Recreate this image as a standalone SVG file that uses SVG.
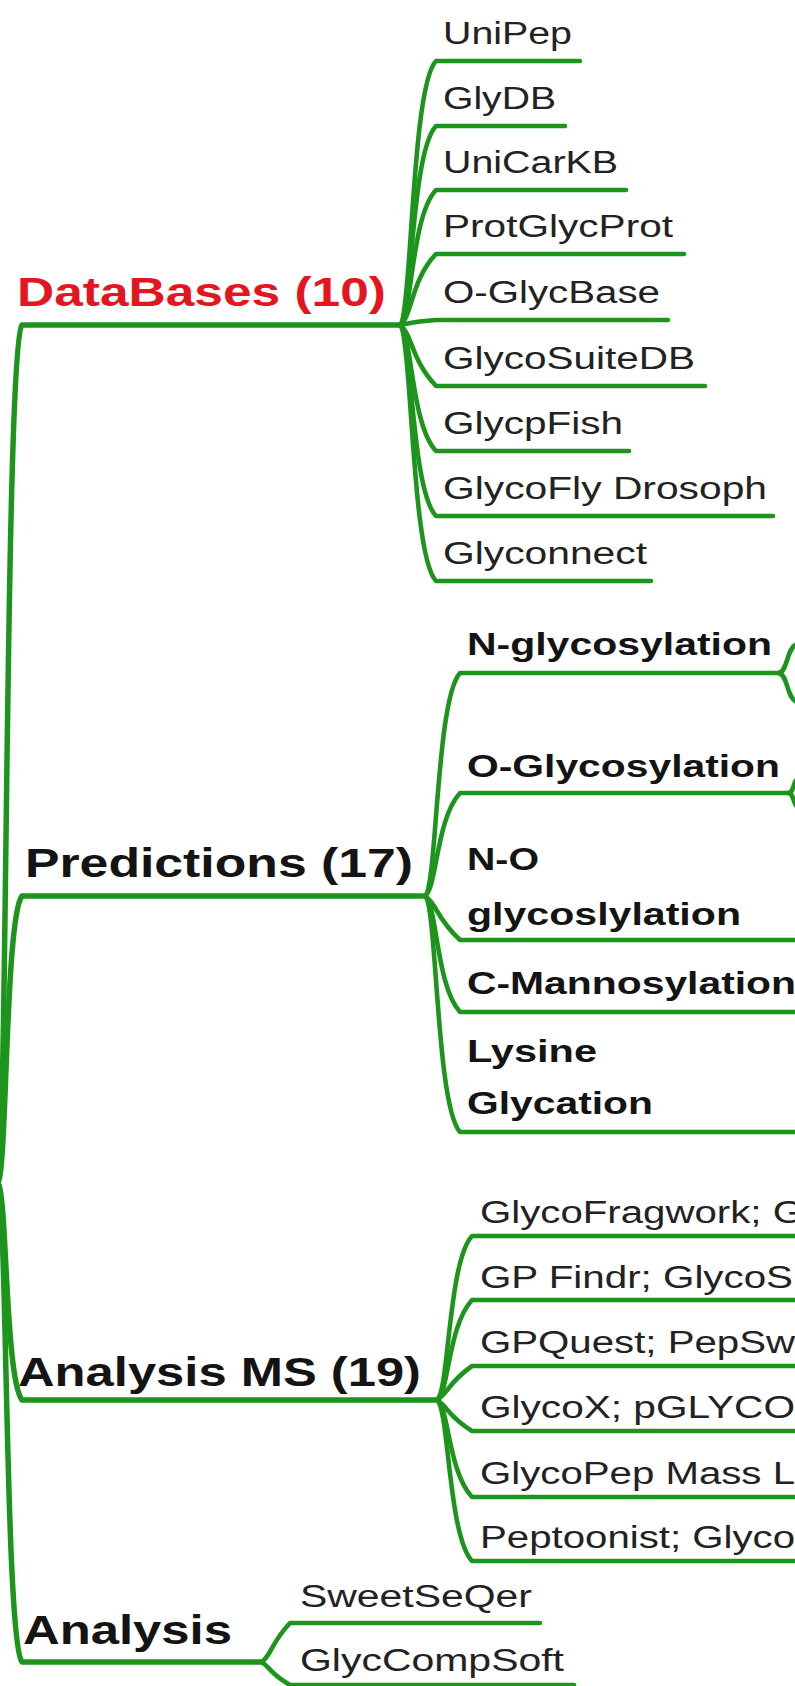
<svg xmlns="http://www.w3.org/2000/svg" width="795" height="1686" viewBox="0 0 795 1686">
<style>
.c{fill:none;stroke:#1d951d;stroke-linecap:round;stroke-linejoin:round}
.m{stroke-width:5.5}
.s{stroke-width:4.6}
.lab{font-family:"Liberation Sans",Arial,sans-serif;font-weight:bold;font-size:41px;fill:#141414}
.red{fill:#e4151f}
.it{font-family:"Liberation Sans",Arial,sans-serif;font-size:31px;fill:#222222}
.bi{font-family:"Liberation Sans",Arial,sans-serif;font-weight:bold;font-size:31px;fill:#141414}
</style>
<rect width="795" height="1686" fill="#ffffff"/>
<g id="connectors">
  <path class="c m" d="M -2 1183 C 7 1173, 5 347, 22 325 L 400 325"/>
  <path class="c m" d="M -2 1183 C 7 1173, 5 918, 22 896 L 425 896"/>
  <path class="c m" d="M -2 1183 C 7 1193, 5 1378, 22 1400 L 437 1400"/>
  <path class="c m" d="M -2 1183 C 7 1193, 5 1640, 22 1662 L 262 1662"/>
  <path class="c s" d="M 400 325 C 412 317, 411 87, 436 61 L 580 61"/>
  <path class="c s" d="M 400 325 C 412 317, 411 152, 436 126 L 565 126"/>
  <path class="c s" d="M 400 325 C 412 317, 411 216, 436 190 L 626 190"/>
  <path class="c s" d="M 400 325 C 412 317, 411 280, 436 254 L 684 254"/>
  <path class="c s" d="M 400 325 C 412 323, 411 322, 436 320 L 668 320"/>
  <path class="c s" d="M 400 325 C 412 333, 411 360, 436 386 L 705 386"/>
  <path class="c s" d="M 400 325 C 412 333, 411 425, 436 451 L 629 451"/>
  <path class="c s" d="M 400 325 C 412 333, 411 490, 436 516 L 773 516"/>
  <path class="c s" d="M 400 325 C 412 333, 411 555, 436 581 L 651 581"/>
  <path class="c s" d="M 425 896 C 437 888, 436 699, 460 673 L 780 673"/>
  <path class="c s" d="M 425 896 C 437 888, 436 819, 460 793 L 790 793"/>
  <path class="c s" d="M 425 896 C 437 904, 436 918, 460 940 L 800 940"/>
  <path class="c s" d="M 425 896 C 437 904, 436 986, 460 1012 L 800 1012"/>
  <path class="c s" d="M 425 896 C 437 904, 436 1106, 460 1132 L 800 1132"/>
  <path class="c s" d="M 778 673 C 788 673, 786 648, 797 644"/>
  <path class="c s" d="M 778 673 C 788 673, 786 698, 797 702"/>
  <path class="c s" d="M 788 793 C 794 793, 793 782, 797 779"/>
  <path class="c s" d="M 788 793 C 794 793, 793 804, 797 807"/>
  <path class="c s" d="M 437 1400 C 449 1392, 448 1262, 472 1236 L 800 1236"/>
  <path class="c s" d="M 437 1400 C 449 1392, 448 1326, 472 1300 L 800 1300"/>
  <path class="c s" d="M 437 1400 C 449 1392, 448 1383, 472 1366 L 800 1366"/>
  <path class="c s" d="M 437 1400 C 449 1408, 448 1416, 472 1431 L 800 1431"/>
  <path class="c s" d="M 437 1400 C 449 1408, 448 1471, 472 1497 L 800 1497"/>
  <path class="c s" d="M 437 1400 C 449 1408, 448 1535, 472 1561 L 800 1561"/>
  <path class="c s" d="M 262 1662 C 272 1654, 271 1643, 290 1623 L 540 1623"/>
  <path class="c s" d="M 262 1662 C 272 1670, 271 1674, 290 1685 L 574 1685"/>
</g>
<g id="databases"><text class="lab red" x="17" y="306" textLength="369" lengthAdjust="spacingAndGlyphs">DataBases (10)</text></g>
<g id="unipep"><text class="it" x="443" y="44" textLength="129" lengthAdjust="spacingAndGlyphs">UniPep</text></g>
<g id="glydb"><text class="it" x="443" y="109" textLength="113" lengthAdjust="spacingAndGlyphs">GlyDB</text></g>
<g id="unicarkb"><text class="it" x="443" y="173" textLength="175" lengthAdjust="spacingAndGlyphs">UniCarKB</text></g>
<g id="protglycprot"><text class="it" x="443" y="237" textLength="230" lengthAdjust="spacingAndGlyphs">ProtGlycProt</text></g>
<g id="oglycbase"><text class="it" x="443" y="303" textLength="217" lengthAdjust="spacingAndGlyphs">O-GlycBase</text></g>
<g id="glycosuitedb"><text class="it" x="443" y="369" textLength="252" lengthAdjust="spacingAndGlyphs">GlycoSuiteDB</text></g>
<g id="glycpfish"><text class="it" x="443" y="434" textLength="180" lengthAdjust="spacingAndGlyphs">GlycpFish</text></g>
<g id="glycofly"><text class="it" x="443" y="499" textLength="324" lengthAdjust="spacingAndGlyphs">GlycoFly Drosoph</text></g>
<g id="glyconnect"><text class="it" x="443" y="564" textLength="204" lengthAdjust="spacingAndGlyphs">Glyconnect</text></g>
<g id="predictions"><text class="lab" x="25" y="877" textLength="388" lengthAdjust="spacingAndGlyphs">Predictions (17)</text></g>
<g id="nglyco"><text class="bi" x="467" y="655" textLength="305" lengthAdjust="spacingAndGlyphs">N-glycosylation</text></g>
<g id="oglyco"><text class="bi" x="467" y="777" textLength="313" lengthAdjust="spacingAndGlyphs">O-Glycosylation</text></g>
<g id="noglyco"><text class="bi" x="467" y="870" textLength="72" lengthAdjust="spacingAndGlyphs">N-O</text><text class="bi" x="467" y="925" textLength="274" lengthAdjust="spacingAndGlyphs">glycoslylation</text></g>
<g id="cmanno"><text class="bi" x="467" y="994" textLength="329" lengthAdjust="spacingAndGlyphs">C-Mannosylation</text></g>
<g id="lysine"><text class="bi" x="467" y="1062" textLength="130" lengthAdjust="spacingAndGlyphs">Lysine</text><text class="bi" x="467" y="1114" textLength="186" lengthAdjust="spacingAndGlyphs">Glycation</text></g>
<g id="analysisms"><text class="lab" x="18" y="1386" textLength="403" lengthAdjust="spacingAndGlyphs">Analysis MS (19)</text></g>
<g id="ms1"><text class="it" x="480" y="1223" textLength="324" lengthAdjust="spacingAndGlyphs">GlycoFragwork; G</text></g>
<g id="ms2"><text class="it" x="480" y="1288" textLength="313" lengthAdjust="spacingAndGlyphs">GP Findr; GlycoS</text></g>
<g id="ms3"><text class="it" x="480" y="1353" textLength="315" lengthAdjust="spacingAndGlyphs">GPQuest; PepSw</text></g>
<g id="ms4"><text class="it" x="480" y="1418" textLength="315" lengthAdjust="spacingAndGlyphs">GlycoX; pGLYCO</text></g>
<g id="ms5"><text class="it" x="480" y="1484" textLength="315" lengthAdjust="spacingAndGlyphs">GlycoPep Mass L</text></g>
<g id="ms6"><text class="it" x="480" y="1548" textLength="315" lengthAdjust="spacingAndGlyphs">Peptoonist; Glyco</text></g>
<g id="analysis"><text class="lab" x="23" y="1644" textLength="209" lengthAdjust="spacingAndGlyphs">Analysis</text></g>
<g id="sweetseqer"><text class="it" x="300" y="1607" textLength="232" lengthAdjust="spacingAndGlyphs">SweetSeQer</text></g>
<g id="glyccompsoft"><text class="it" x="300" y="1671" textLength="264" lengthAdjust="spacingAndGlyphs">GlycCompSoft</text></g>
</svg>
